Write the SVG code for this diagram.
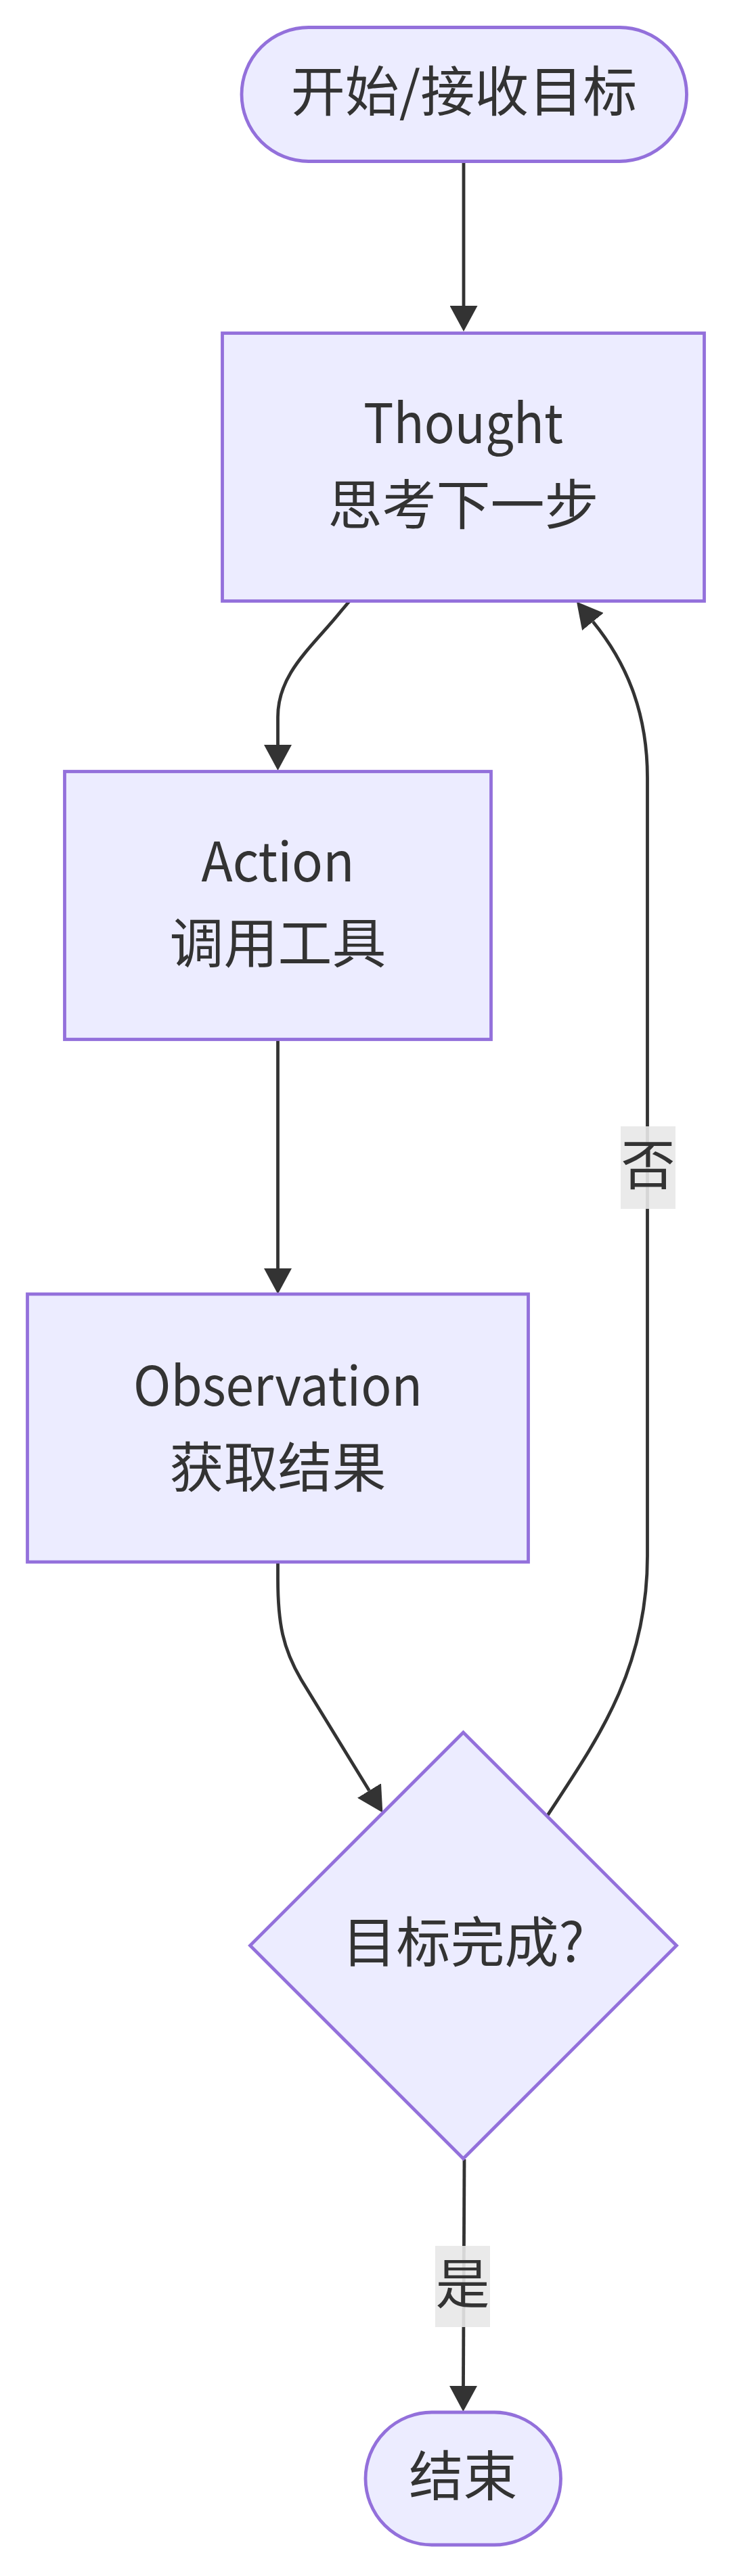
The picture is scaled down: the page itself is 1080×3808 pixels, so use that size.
<svg xmlns="http://www.w3.org/2000/svg" width="1080" height="3808" viewBox="0 0 1080 3808">
<style>
.node{fill:#ECECFF;stroke:#9370DB;stroke-width:4.8}
.edge{fill:none;stroke:#333333;stroke-width:4.8}
.t{font-family:"Noto Sans CJK SC","Noto Sans",sans-serif;font-size:80px;fill:#333333;text-anchor:middle}
.lbl{fill:#e8e8e8;fill-opacity:0.9}
</style>
<defs>
<marker id="arrow" markerUnits="userSpaceOnUse" markerWidth="38" markerHeight="41" viewBox="0 0 38 41" refX="0" refY="20.5" orient="auto">
<path d="M0,0 L38,20.5 L0,41 z" fill="#333333"/>
</marker>
</defs>
<rect width="1080" height="3808" fill="#ffffff"/>
<g id="connectors">
<path class="edge" d="M685,239 L685,452" marker-end="url(#arrow)"/>
<path class="edge" d="M516,889 L505,902 C460,958 410.5,995 410.5,1060 L410.5,1101" marker-end="url(#arrow)"/>
<path class="edge" d="M410.5,1537 L410.5,1875" marker-end="url(#arrow)"/>
<path class="edge" d="M410.5,2309 L410.5,2334 C410.5,2400 418,2437 445,2483 L545.5,2647" marker-end="url(#arrow)"/>
<path class="edge" d="M808,2685 C880,2575 956.5,2470 956.5,2300 L956.5,1150 C956.5,1060 930,985 876,919" marker-end="url(#arrow)"/>
<path class="edge" d="M686,3192 L684.5,3527" marker-end="url(#arrow)"/>
</g>
<g id="edge-labels">
<g id="label-no">
<rect class="lbl" x="917" y="1665" width="81" height="122"/>
<text class="t" x="957.5" y="1751">否</text>
</g>
<g id="label-yes">
<rect class="lbl" x="643" y="3320" width="81" height="120"/>
<text class="t" x="683.5" y="3405">是</text>
</g>
</g>
<g id="start">
<rect class="node" x="357" y="40.5" width="657.5" height="198" rx="99" ry="99"/>
<text class="t" x="685.5" y="164">开始/接收目标</text>
</g>
<g id="thought">
<rect class="node" x="328.5" y="492.5" width="712" height="396"/>
<text class="t" x="684.5" y="655" textLength="295" lengthAdjust="spacingAndGlyphs">Thought</text>
<text class="t" x="684.5" y="775">思考下一步</text>
</g>
<g id="action">
<rect class="node" x="95.5" y="1140.5" width="630" height="396"/>
<text class="t" x="410.5" y="1303" textLength="226" lengthAdjust="spacingAndGlyphs">Action</text>
<text class="t" x="410.5" y="1423">调用工具</text>
</g>
<g id="observation">
<rect class="node" x="40.5" y="1913" width="740" height="396"/>
<text class="t" x="410.5" y="2078" textLength="427" lengthAdjust="spacingAndGlyphs">Observation</text>
<text class="t" x="410.5" y="2198">获取结果</text>
</g>
<g id="decision">
<polygon class="node" points="684.5,2561 999.5,2876 684.5,3191 369.5,2876"/>
<text class="t" x="684.5" y="2900">目标完成?</text>
</g>
<g id="end">
<rect class="node" x="540" y="3566" width="288.5" height="196" rx="98" ry="98"/>
<text class="t" x="684.25" y="3689">结束</text>
</g>
</svg>
